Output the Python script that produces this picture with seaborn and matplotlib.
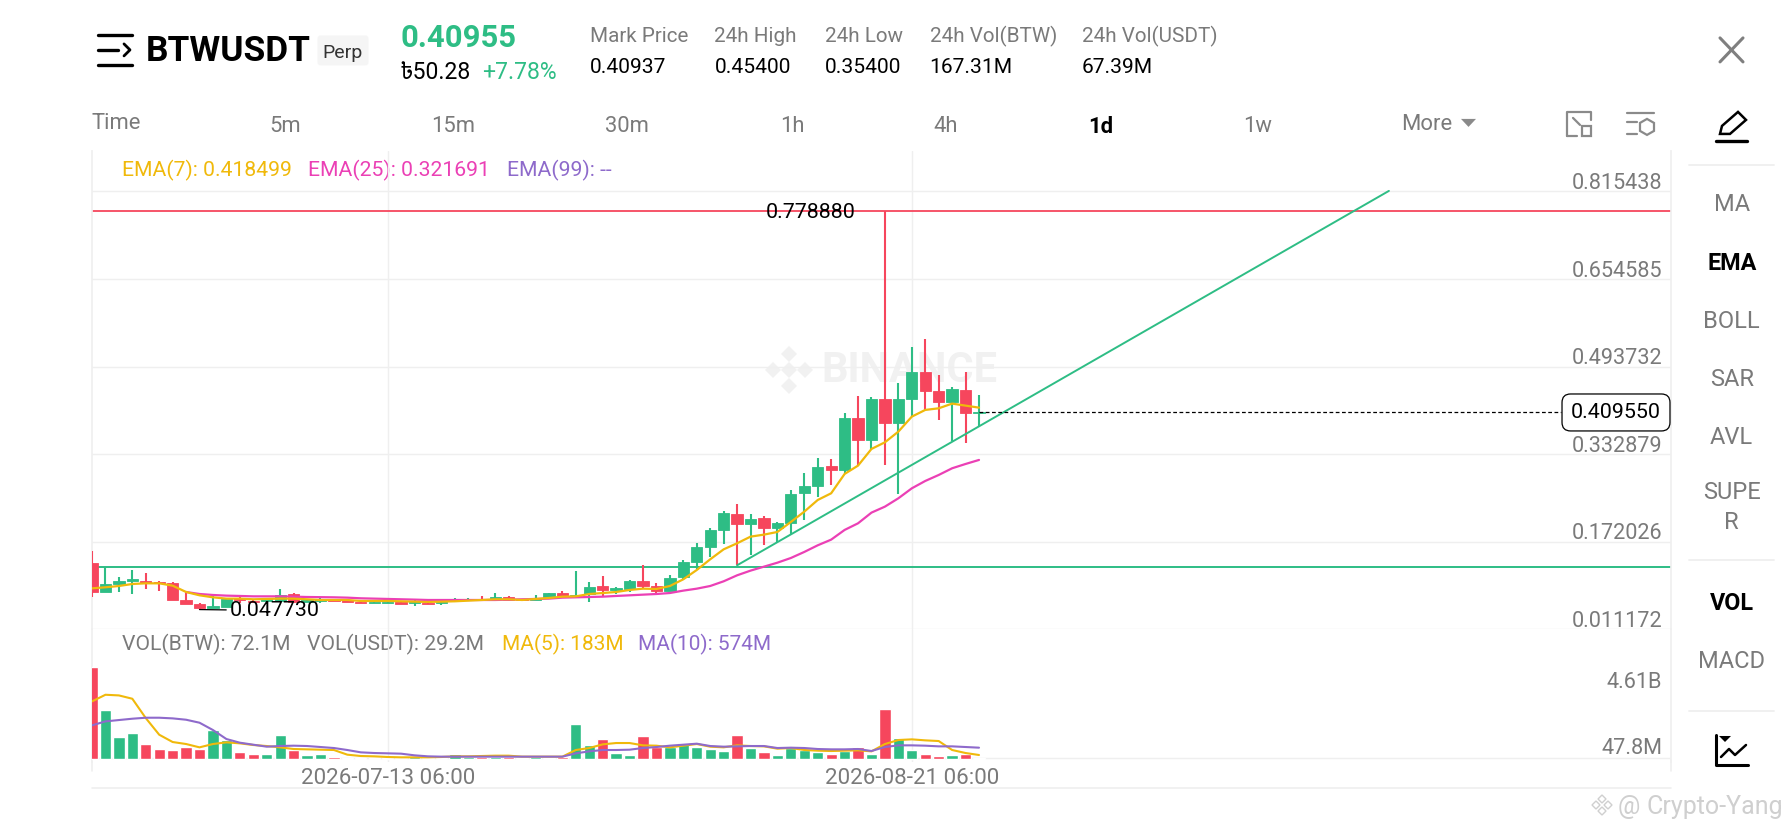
import numpy as np
import pandas as pd
import matplotlib.pyplot as plt
from matplotlib.patches import FancyBboxPatch, Polygon
from matplotlib.transforms import Affine2D
import seaborn as sns

# daily candles
open_px = [.1327, .0806, .0947, .0996, .1008, .0984, .0972, .0647, .0574, .0506,
           .0531, .0684, .0635, .0635, .0635, .0757, .0617, .0641, .0653, .0647,
           .0623, .0598, .0604, .0611, .0592, .0604, .0592, .0629, .0647, .0678,
           .0672, .0708, .0672, .0653, .0702, .0776, .0714, .0763, .0904, .0837,
           .0861, .1008, .0910, .0812, .1069, .1351, .1633, .1939, .2238, .2049,
           .2153, .1969, .2061, .2612, .2746, .3114, .3040, .3989, .3591, .4337,
           .3897, .4350, .4839, .4491, .4289, .4515, .4087]
high_px = [.1559, .1265, .1069, .1204, .1155, .1008, .0984, .0806, .0592, .0727,
           .0684, .0727, .0647, .0678, .0861, .0788, .0653, .0702, .0660, .0653,
           .0629, .0629, .0629, .0617, .0653, .0611, .0653, .0684, .0684, .0727,
           .0788, .0727, .0678, .0751, .0782, .0825, .1186, .0984, .1094, .0898,
           .1020, .1290, .0959, .1118, .1388, .1706, .1969, .2287, .2416, .2232,
           .2202, .2085, .2673, .2979, .3254, .3236, .4080, .4399, .4374, .77888,
           .4631, .5292, .5451, .4784, .4570, .4845, .4417]
low_px = [.0714, .0800, .0806, .0763, .0855, .0818, .0647, .0574, .04773, .0506,
          .0519, .0592, .0598, .0629, .0635, .0592, .0611, .0592, .0629, .0617,
          .0592, .0592, .0598, .0580, .0549, .0574, .0568, .0617, .0641, .0635,
          .0653, .0635, .0635, .0647, .0696, .0702, .0714, .0617, .0727, .0763,
          .0800, .0873, .0788, .0812, .1033, .1229, .1437, .1681, .1290, .1479,
          .1663, .1724, .1865, .2122, .2550, .2759, .2967, .3125, .3419, .3132,
          .2599, .4019, .4142, .3958, .3579, .3542, .3848]
close_px = [.0806, .0947, .1008, .1033, .0972, .0959, .0647, .0574, .0506, .0537,
            .0666, .0653, .0611, .0666, .0739, .0611, .0647, .0666, .0635, .0623,
            .0598, .0623, .0623, .0586, .0611, .0580, .0611, .0653, .0678, .0647,
            .0708, .0653, .0647, .0690, .0776, .0714, .0745, .0898, .0837, .0867,
            .1008, .0910, .0812, .1057, .1345, .1620, .1939, .2245, .2049, .2147,
            .1969, .2061, .2599, .2746, .3101, .3040, .3989, .3591, .4337, .3897,
            .4344, .4839, .4497, .4289, .4521, .4087, .40955]

ema7 = [.0867, .0886, .0910, .0947, .0959, .0959, .0916, .0800, .0739, .0702,
        .0678, .0678, .0666, .0672, .0678, .0678, .0666, .0653, .0653, .0653,
        .0635, .0635, .0635, .0629, .0623, .0617, .0623, .0629, .0641, .0653,
        .0666, .0666, .0653, .0672, .0690, .0714, .0720, .0763, .0781, .0800,
        .0837, .0861, .0855, .0910, .1033, .1204, .1400, .1583, .1694, .1816,
        .1853, .1902, .2085, .2275, .2489, .2612, .2967, .3120, .3426, .3548,
        .3744, .4019, .4142, .4172, .4258, .4221, .4184]
ema25_start = 7
ema25 = [.0800, .0763, .0745, .0733, .0727, .0720, .0720, .0720, .0714, .0708,
         .0705, .0702, .0696, .0684, .0678, .0672, .0666, .0660, .0653, .0653,
         .0653, .0653, .0653, .0653, .0659, .0666, .0672, .0678, .0696, .0702,
         .0708, .0714, .0727, .0739, .0751, .0763, .0781, .0825, .0861, .0910,
         .0996, .1106, .1192, .1265, .1338, .1424, .1535, .1657, .1761, .1939,
         .2061, .2257, .2367, .2520, .2703, .2838, .2948, .3071, .3150, .3224]

# volume in millions
volume = [6316, 3374, 1528, 1778, 1049, 707, 638, 844, 684, 1984,
          1300, 479, 365, 319, 1619, 638, 274, 342, 160, 70,
          60, 60, 50, 50, 130, 60, 50, 319, 160, 160,
          160, 160, 70, 110, 50, 160, 2371, 935, 1391, 410,
          251, 1573, 798, 798, 1117, 844, 684, 547, 1619, 730,
          456, 296, 752, 616, 502, 342, 570, 821, 342, 3420,
          1459, 616, 365, 228, 274, 365, 45]
vol_ma5 = [3944, 4400, 4355, 4127, 2804, 1664, 1163, 1026, 798, 1026,
           1140, 1072, 958, 889, 798, 684, 661, 638, 616, 296,
           205, 182, 137, 114, 114, 114, 137, 182, 182, 205,
           228, 228, 160, 160, 160, 160, 616, 752, 1003, 1094,
           1094, 935, 912, 798, 912, 1026, 844, 798, 935, 889,
           866, 707, 752, 616, 570, 547, 570, 593, 524, 1026,
           1300, 1345, 1277, 1231, 616, 410, 274]
vol_ma10 = [2303, 2576, 2668, 2759, 2827, 2827, 2782, 2690, 2485, 1984,
            1368, 1117, 980, 844, 889, 912, 889, 821, 752, 616,
            456, 410, 388, 365, 251, 182, 160, 160, 160, 160,
            160, 160, 160, 160, 160, 160, 388, 524, 616, 616,
            638, 752, 821, 912, 980, 1049, 889, 844, 866, 889,
            889, 752, 775, 752, 684, 661, 661, 684, 547, 821,
            935, 935, 912, 866, 866, 821, 775]

price_ticks = [0.011172, 0.172026, 0.332879, 0.493732, 0.654585, 0.815438]
vol_ticks = [47.8, 4610]
vol_tick_labels = ['47.8M', '4.61B']
date_ticks = [22, 61]
date_labels = ['2026-07-13 06:00', '2026-08-21 06:00']

high_line = 0.77888
low_line = 0.1259
trend_x = [48, 96.5]
trend_y = [0.1290, 0.8163]

GREEN = '#2EBD85'
RED = '#F6465D'
YELLOW = '#F0B90B'
PINK = '#EB40B5'
PURPLE = '#8E6ACB'
GREY = '#7A7A7A'
GRID = '#EFEFEF'

sns.set_theme(style='white')
plt.rcParams['font.family'] = ['Roboto', 'DejaVu Sans']

W, H = 1792, 828
fig = plt.figure(figsize=(W / 100, 8.281), dpi=100, facecolor='white')


def px_axes(x0, y0, x1, y1):
    return fig.add_axes([x0 / W, 1 - y1 / H, (x1 - x0) / W, (y1 - y0) / H])


# screen furniture lives on a full size axes in pixel coordinates
ui = px_axes(0, 0, W, H)
ui.set_xlim(0, W)
ui.set_ylim(H, 0)
ui.axis('off')


def label(x, y, s, size=15.2, color='black', ha='left', weight='normal', **kw):
    # +1.5 because va center counts the descender room
    ui.text(x, y + 1.5, s, fontsize=size, color=color, ha=ha, va='center', fontweight=weight, **kw)


def stroke(xs, ys, color='black', lw=1.8):
    ui.plot(xs, ys, color=color, lw=lw, solid_capstyle='round')


def right_labels(axis, dx, dy):
    # labels sit inside the panel, just above their gridline
    for t in axis.get_yticklabels():
        t.set_ha('right')
        t.set_va('bottom')
        t.set_transform(t.get_transform() + Affine2D().translate(dx, dy))


# header
stroke([98, 132], [35, 35], lw=2.4)
stroke([98, 118], [50, 50], lw=2.4)
stroke([98, 132], [65, 65], lw=2.4)
stroke([124, 130, 124], [44, 50, 56], lw=2)
label(146, 50, 'BTWUSDT', 25.4, weight='bold')
ui.add_patch(FancyBboxPatch((319, 37), 48, 27, boxstyle='round,pad=1.5,rounding_size=3',
                            fc='#F5F5F5', ec='none'))
label(343, 51, 'Perp', 14, '#333333', ha='center')
label(400, 36, '0.40955', 22.3, GREEN, weight='bold')
label(400, 71, '৳50.28', 16.6, family=['Roboto', 'Noto Sans Bengali', 'DejaVu Sans'])
label(482, 71, '+7.78%', 16.6, GREEN)
stat_x = [590, 714.5, 825, 929.6, 1082]
stat_names = ['Mark Price', '24h High', '24h Low', '24h Vol(BTW)', '24h Vol(USDT)']
stat_vals = ['0.40937', '0.45400', '0.35400', '167.31M', '67.39M']
for x, name, val in zip(stat_x, stat_names, stat_vals):
    label(x, 35, name, 14.9, GREY)
    label(x, 66, val, 15.1)

# interval row
label(92, 122, 'Time', 15.8, GREY)
tab_x = [285.6, 453.5, 627, 792, 946, 1101, 1258]
tab_names = ['5m', '15m', '30m', '1h', '4h', '1d', '1w']
for x, name in zip(tab_x, tab_names):
    if name == '1d':
        label(x, 125, name, 15.8, 'black', ha='center', weight='bold')
    else:
        label(x, 125, name, 15.8, GREY, ha='center')
label(1401, 123, 'More', 15.8, GREY)
ui.add_patch(Polygon([[1461, 119], [1476, 119], [1468.5, 127]], fc='#8A8A8A', ec='none'))
stroke([1567, 1567, 1591, 1591], [136, 112, 112, 120], '#8A8A8A', 1.6)
stroke([1567, 1577], [136, 136], '#8A8A8A', 1.6)
ui.add_patch(plt.Rectangle((1582, 126), 9, 10, fc='none', ec='#8A8A8A', lw=1.6))
stroke([1573, 1580], [118, 125], '#8A8A8A', 1.6)
stroke([1627, 1654], [113, 113], '#8A8A8A', 1.6)
stroke([1627, 1637], [122, 122], '#8A8A8A', 1.6)
stroke([1627, 1637], [134, 134], '#8A8A8A', 1.6)
ui.add_patch(Polygon([[1647, 119], [1654, 123], [1654, 131], [1647, 135], [1640, 131], [1640, 123]],
                     fc='none', ec='#8A8A8A', lw=1.6))

# sidebar
stroke([1720, 1743], [38, 62], '#7F7F7F', 2.2)
stroke([1720, 1743], [62, 38], '#7F7F7F', 2.2)
stroke([1716, 1747], [141, 141], lw=2.4)
ui.add_patch(Polygon([[1720, 134], [1722, 126], [1738, 112], [1746, 120], [1730, 134]],
                     fc='white', ec='black', lw=1.8))
for y in [165, 560, 711]:
    ui.plot([1689, 1774], [y, y], color=GRID, lw=1.3)
side_y = [203, 261.5, 319.6, 377.7, 436, 491, 521, 602, 660]
side_names = ['MA', 'EMA', 'BOLL', 'SAR', 'AVL', 'SUPE', 'R', 'VOL', 'MACD']
for y, name in zip(side_y, side_names):
    if name in ('EMA', 'VOL'):
        label(1731.7, y, name, 16.8, 'black', ha='center', weight='bold')
    else:
        label(1731.7, y, name, 17, GREY, ha='center')
stroke([1716, 1716, 1748], [735, 765, 765], lw=2.2)
stroke([1721, 1729, 1735, 1746], [757, 749, 755, 745], lw=1.8)
ui.add_patch(Polygon([[1719, 736], [1731, 736], [1725, 742]], fc='black', ec='none'))

# watermarks
label(821, 369, 'BINANCE', 30, '#F1F1F1', weight='bold')
for dx, dy in [(0, -16), (-16, 0), (16, 0), (0, 16), (0, 0)]:
    ui.add_patch(Polygon([[789 + dx, 370 + dy - 8], [789 + dx + 8, 370 + dy],
                          [789 + dx, 370 + dy + 8], [789 + dx - 8, 370 + dy]],
                         fc='#F1F1F1', ec='none'))
label(1618, 805, '@', 18, '#CFCFCF')
label(1647, 805, 'Crypto-Yang', 18, '#CFCFCF')
for dx, dy in [(0, -6), (-6, 0), (6, 0), (0, 6)]:
    ui.add_patch(Polygon([[1602 + dx, 805 + dy - 4], [1602 + dx + 4, 805 + dy],
                          [1602 + dx, 805 + dy + 4], [1602 + dx - 4, 805 + dy]],
                         fc='none', ec='#CFCFCF', lw=1))

# chart frame bits
ui.plot([92, 1671], [788, 788], color=GRID, lw=1.2)
ui.plot([92, 92], [760, 771], color=GRID, lw=1.2)
ui.plot([1671, 1671], [760, 771], color=GRID, lw=1.2)

df = pd.DataFrame({'day': np.arange(len(close_px)), 'open': open_px, 'high': high_px,
                   'low': low_px, 'close': close_px, 'ema7': ema7, 'volume': volume,
                   'ma5': vol_ma5, 'ma10': vol_ma10})
df['side'] = np.where(df['close'] >= df['open'], 'up', 'down')
df['ema25'] = np.nan
df.loc[ema25_start:, 'ema25'] = ema25
palette = {'up': GREEN, 'down': RED}

# price panel
ax = px_axes(92, 151, 1671, 629.5)
ax.patch.set_alpha(0)
for _, row in df.iterrows():
    col = palette[row['side']]
    ax.vlines(row['day'], row['low'], row['high'], color=col, lw=1.5, zorder=3)
    bottom = min(row['open'], row['close'])
    ax.bar(row['day'], abs(row['close'] - row['open']), bottom=bottom, width=0.84,
           color=col, edgecolor=col, lw=0.6, zorder=3)
sns.lineplot(data=df, x='day', y='ema25', color=PINK, lw=1.6, errorbar=None, ax=ax, zorder=4)
sns.lineplot(data=df, x='day', y='ema7', color=YELLOW, lw=1.6, errorbar=None, ax=ax, zorder=5)
ax.axhline(high_line, color=RED, lw=1.3, zorder=2)
ax.axhline(low_line, color=GREEN, lw=1.4, zorder=2)
ax.plot(trend_x, trend_y, color=GREEN, lw=1.4, zorder=4)
ax.hlines(close_px[-1], df['day'].iloc[-1], 109.3, color='black', lw=0.9,
          linestyles=(0, (3, 2)), zorder=4)
ax.annotate('0.778880', xy=(df['day'][df['high'].idxmax()], high_line), xytext=(-29, -1),
            textcoords='offset pixels', ha='right', va='center', fontsize=15.4, color='black')
ax.annotate('0.047730', xy=(df['day'][df['low'].idxmin()], min(low_px)), xytext=(30, -1),
            textcoords='offset pixels', ha='left', va='center', fontsize=15.4, color='black',
            arrowprops=dict(arrowstyle='-', color='black', lw=0.9, shrinkA=0, shrinkB=0))
ax.annotate(f'{close_px[-1]:.6f}', xy=(1, close_px[-1]), xycoords=ax.get_yaxis_transform(),
            xytext=(-10, 0), textcoords='offset pixels', ha='right', va='center',
            fontsize=15.4, color='black', zorder=6,
            bbox=dict(boxstyle='round,pad=0.42,rounding_size=0.4', fc='white', ec='black', lw=0.9))
ax.set_xlim(0, 117.49)
ax.set_ylim(price_ticks[0], 0.8897)
ax.set_yticks(price_ticks, [f'{t:.6f}' for t in price_ticks])
ax.yaxis.tick_right()
ax.tick_params(axis='y', length=0, pad=-7.6, labelsize=15.6, labelcolor=GREY)
right_labels(ax, 2, -2.5)
ax.set_xticks(date_ticks, [])
ax.tick_params(axis='x', length=0)
ax.grid(True, color=GRID, lw=1.0)
ax.set_axisbelow(True)
ax.set_xlabel('')
ax.set_ylabel('')
for side in ['top', 'bottom']:
    ax.spines[side].set_visible(False)
for side in ['left', 'right']:
    ax.spines[side].set_color(GRID)
label(121.7, 169.3, 'EMA(7): 0.418499', 15.2, YELLOW)
label(308, 169.3, 'EMA(25): 0.321691', 15.2, PINK)
label(507, 169.3, 'EMA(99): --', 15.2, PURPLE)

# volume panel
vax = px_axes(92, 629.5, 1671, 762)
vax.patch.set_alpha(0)
sns.barplot(data=df, x='day', y='volume', hue='side', palette=palette, dodge=False,
            native_scale=True, width=0.84, saturation=1, legend=False, ax=vax, zorder=3)
sns.lineplot(data=df, x='day', y='ma5', color=YELLOW, lw=1.5, errorbar=None, ax=vax, zorder=4)
sns.lineplot(data=df, x='day', y='ma10', color=PURPLE, lw=1.5, errorbar=None, ax=vax, zorder=5)
vax.axhline(vol_ticks[0], color=GRID, lw=1.0, zorder=1)
vax.set_xlim(0, 117.49)
vax.set_ylim(-205, 8871)
vax.set_yticks(vol_ticks, vol_tick_labels)
vax.yaxis.tick_right()
vax.tick_params(axis='y', length=0, pad=-7.6, labelsize=15.6, labelcolor=GREY)
right_labels(vax, 2, -1)
vax.set_xticks(date_ticks, date_labels)
vax.tick_params(axis='x', length=0, pad=4, labelsize=16.1, labelcolor=GREY)
vax.grid(True, axis='x', color=GRID, lw=1.0)
vax.set_axisbelow(True)
vax.set_xlabel('')
vax.set_ylabel('')
for side in ['top', 'bottom']:
    vax.spines[side].set_visible(False)
for side in ['left', 'right']:
    vax.spines[side].set_color(GRID)
label(121.7, 643.3, 'VOL(BTW): 72.1M', 15.2, GREY)
label(306.7, 643.3, 'VOL(USDT): 29.2M', 15.2, GREY)
label(501.7, 643.3, 'MA(5): 183M', 15.0, YELLOW)
label(638.3, 643.3, 'MA(10): 574M', 15.0, PURPLE)

fig.savefig('out.png', dpi=100)
